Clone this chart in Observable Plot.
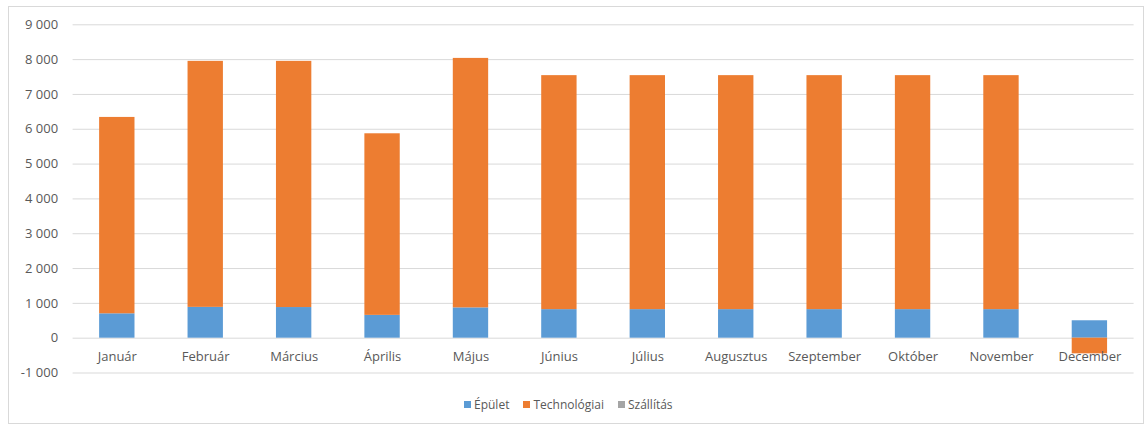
<!DOCTYPE html>
<html><head><meta charset="utf-8">
<script src="https://cdn.jsdelivr.net/npm/d3@7"></script>
<script src="https://cdn.jsdelivr.net/npm/@observablehq/plot@0.6"></script>
<style>
body{margin:0;background:#fff;font-family:"Open Sans",sans-serif;}
#frame{position:absolute;left:8px;top:6px;width:1136px;height:418px;border:1px solid #d9d9d9;box-sizing:border-box;pointer-events:none;}
#chart{position:absolute;left:0;top:0;}
#legend{position:absolute;left:464px;top:396px;display:flex;gap:14px;font-size:12px;color:#595959;}
#legend span.item{display:flex;align-items:center;gap:3px;}
#legend span.sw{display:inline-block;width:7px;height:7px;}
</style></head>
<body>
<div id="chart"></div>
<div id="frame"></div>
<div id="legend"></div>
<script>
const months = ["Január","Február","Március","Április","Május","Június","Július","Augusztus","Szeptember","Október","November","December"];
const seriesNames = ["Épület","Technológiai","Szállítás"];
const seriesColors = ["#5b9bd5","#ed7d31","#a5a5a5"];
const epulet =       [700, 885, 880, 655, 870, 820, 820, 820, 820, 820, 820, 500];
const technologiai = [5640, 7065, 7070, 5215, 7165, 6720, 6720, 6720, 6720, 6720, 6720, -450];
const szallitas =    [0,0,0,0,0,0,0,0,0,0,0,0];
const yTicks = [-1000,0,1000,2000,3000,4000,5000,6000,7000,8000,9000];

const seriesValues = [epulet, technologiai, szallitas];
const rows = [];
seriesNames.forEach((s, si) => months.forEach((m, mi) => rows.push({month: m, series: s, value: seriesValues[si][mi]})));

const fmt = d => (d < 0 ? "-" : "") + Math.abs(d).toString().replace(/\B(?=(\d{3})+(?!\d))/g, " ");

const chart = Plot.plot({
  width: 1145, height: 385,
  marginLeft: 72.6, marginRight: 11.4, marginTop: 24.3, marginBottom: 12.5,
  style: {fontFamily: "'Open Sans', sans-serif", fontSize: "13px", color: "#595959", background: "transparent"},
  x: {domain: months, paddingInner: 0.6, paddingOuter: 0.3, round: false, axis: null},
  y: {domain: [-1000, 9000], ticks: yTicks, tickFormat: fmt, tickSize: 0, tickPadding: 15, label: null},
  color: {domain: seriesNames, range: seriesColors},
  marks: [
    Plot.gridY(yTicks, {stroke: "#d9d9d9", strokeOpacity: 1, strokeWidth: 1}),
    Plot.axisY(yTicks, {tickSize: 0, tickPadding: 15, tickFormat: fmt, label: null, fill: "#595959", fontSize: 13}),
    Plot.barY(rows.filter(r => r.value !== 0), Plot.stackY({x: "month", y: "value", fill: "series", order: seriesNames})),
    Plot.text(months, {x: d => d, y: () => 0, dy: 19, fill: "#595959", fontSize: 13})
  ]
});
document.getElementById("chart").appendChild(chart);

const lg = document.getElementById("legend");
seriesNames.forEach((s, i) => {
  const it = document.createElement("span"); it.className = "item";
  const sw = document.createElement("span"); sw.className = "sw"; sw.style.background = seriesColors[i];
  const t = document.createElement("span"); t.textContent = s;
  it.appendChild(sw); it.appendChild(t); lg.appendChild(it);
});
</script>
</body></html>
